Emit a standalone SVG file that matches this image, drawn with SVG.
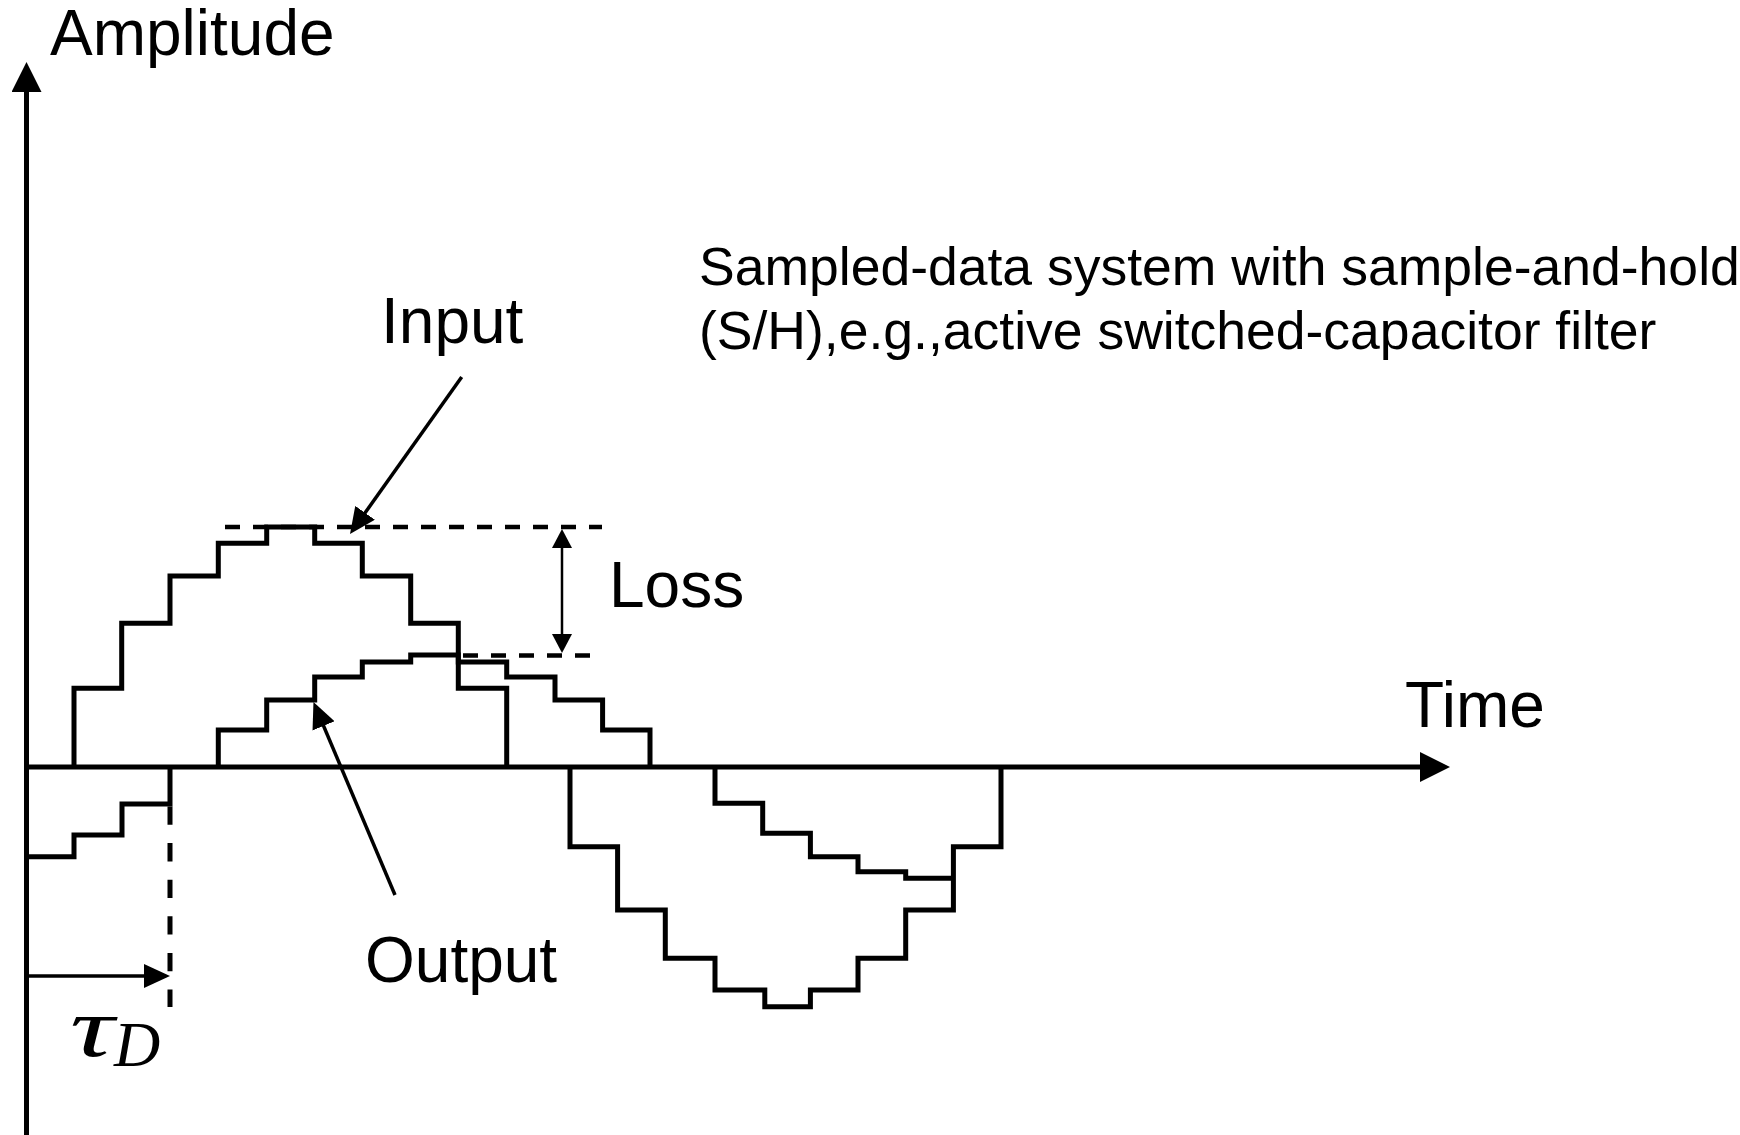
<svg xmlns="http://www.w3.org/2000/svg" width="1740" height="1135" viewBox="0 0 1740 1135">
<style>
.bg{fill:#fff}
.axis{stroke:#000;stroke-width:5;fill:none}
.wave{stroke:#000;stroke-width:5;fill:none;stroke-linejoin:miter}
.dash{stroke:#000;stroke-width:4.5;fill:none;stroke-dasharray:15 13}
.vdash{stroke:#000;stroke-width:5;fill:none;stroke-dasharray:18.3 18.3}
.ann{stroke:#000;stroke-width:3.5;fill:none}
.thin{stroke:#000;stroke-width:2.5;fill:none}
.lbl{font-family:"Liberation Sans",Arial,sans-serif;font-size:64px;fill:#000}
.note{font-family:"Liberation Sans",Arial,sans-serif;font-size:53.5px;fill:#000}
.math{font-family:"Liberation Serif","Times New Roman",serif;font-style:italic;fill:#000}
</style>
<defs>
<marker id="axhead" markerUnits="userSpaceOnUse" viewBox="0 0 30 30" markerWidth="30" markerHeight="30" refX="20" refY="15" orient="auto"><path d="M0,0 L30,15 L0,30 z" fill="#000"/></marker>
<marker id="annhead" markerUnits="userSpaceOnUse" viewBox="0 0 26 24" markerWidth="26" markerHeight="24" refX="20" refY="12" orient="auto"><path d="M0,0 L26,12 L0,24 z" fill="#000"/></marker>
<marker id="losshead" markerUnits="userSpaceOnUse" viewBox="0 0 19 20" markerWidth="19" markerHeight="20" refX="14" refY="10" orient="auto-start-reverse"><path d="M0,0 L19,10 L0,20 z" fill="#000"/></marker>
</defs>
<rect class="bg" x="0" y="0" width="1740" height="1135"/>

<g id="axes">
<line class="axis" x1="26.5" y1="1135" x2="26.5" y2="72" marker-end="url(#axhead)"/>
<line class="axis" x1="24" y1="767" x2="1440" y2="767" marker-end="url(#axhead)"/>
<text id="amplitude-label" class="lbl" x="50" y="55">Amplitude</text>
<text id="time-label" class="lbl" x="1405" y="727">Time</text>
</g>

<g id="input-wave">
<path class="wave" d="M74,767 V688.3 H121.7 V623.3 H170 V576 H218.3 V543.3 H266.7 V527 H314.7 V543.3 H362.3 V576 H410.7 V623.3 H458.3 V688.3 H506.7 V767"/>
<path class="wave" d="M570,767 V846.7 H617.6 V910 H665.3 V958.3 H715 V990 H764.8 V1006.7 H810.4 V990 H858 V958.3 H905.7 V910 H953.4 V846.7 H1001 V767"/>
</g>

<g id="output-wave">
<path class="wave" d="M26.5,856.7 H74 V835 H122 V804 H170 V767"/>
<path class="wave" d="M218.3,767 V730 H266.7 V700 H314.7 V677 H362.3 V662 H410.7 V655 H458.3 V662 H506.7 V677 H555 V700 H602.6 V730 H650 V767"/>
<path class="wave" d="M715,767 V803.3 H762.7 V833.3 H810.4 V856.7 H858 V871.7 H905.7 V878.3 H953.4"/>
</g>

<g id="input-label">
<text class="lbl" x="381" y="343">Input</text>
</g>
<g id="output-label">
<text class="lbl" x="365" y="982">Output</text>
</g>
<g id="loss-label">
<text class="lbl" x="609" y="607">Loss</text>
</g>
<g id="tau-label">
<text class="math" x="70" y="1056" font-size="84" textLength="44" lengthAdjust="spacingAndGlyphs">τ</text>
<text class="math" x="114" y="1066" font-size="64">D</text>
</g>
<g id="description">
<text class="note" x="699" y="285">Sampled-data system with sample-and-hold</text>
<text class="note" x="699" y="349">(S/H),e.g.,active switched-capacitor filter</text>
</g>

<g id="connectors">
<line class="dash" x1="225" y1="527" x2="602" y2="527"/>
<line class="dash" x1="463" y1="655.5" x2="602" y2="655.5"/>
<line class="vdash" x1="170" y1="806.5" x2="170" y2="1007"/>
<line class="thin" x1="562" y1="534" x2="562" y2="648" marker-start="url(#losshead)" marker-end="url(#losshead)"/>
<line class="ann" x1="461.7" y1="377" x2="353.5" y2="529.1" marker-end="url(#annhead)"/>
<line class="ann" x1="395" y1="895" x2="315.8" y2="707.5" marker-end="url(#annhead)"/>
<line class="ann" x1="29" y1="976" x2="164" y2="976" marker-end="url(#annhead)"/>
</g>
</svg>
